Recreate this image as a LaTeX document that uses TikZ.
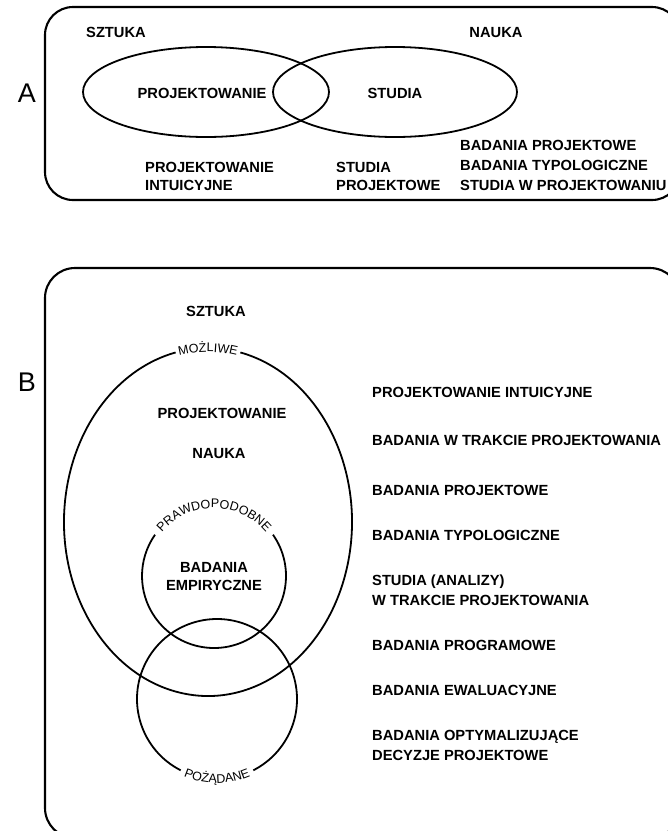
\documentclass[tikz,border=0pt]{standalone}
\usepackage{fontspec}
\setmainfont{Liberation Sans}
\usetikzlibrary{shapes.geometric,decorations.text,calc}
\begin{document}
\begin{tikzpicture}[x=1pt,y=-1pt,
  frame/.style={draw,line width=2.1pt,rounded corners=#1},
  ring/.style={draw,line width=1.8pt},
  lbl/.style={font=\fontsize{14.7}{17}\selectfont\bfseries,inner sep=0pt,anchor=base west},
  lblc/.style={font=\fontsize{14.7}{17}\selectfont\bfseries,inner sep=0pt,anchor=base},
  panel/.style={font=\fontsize{27}{30}\selectfont,inner sep=0pt},
  arctext/.style={decorate,decoration={text along path,text align=center,
      text={|\fontsize{12.5}{13}\selectfont|#1}}},
]
\useasboundingbox (0,0) rectangle (668,831);

% ---------- panel A ----------
\node[panel] (labA) at (27,93) {A};
\draw[frame=28] (45,7) rectangle (680,200);
\node[lblc] (artA) at (116,37) {SZTUKA};
\node[lblc] (sciA) at (496,37) {NAUKA};
\node[ellipse,draw,line width=1.8pt,minimum width=246pt,minimum height=90pt,inner sep=0pt] (ellArt) at (206,92) {};
\node[ellipse,draw,line width=1.8pt,minimum width=244pt,minimum height=90pt,inner sep=0pt] (ellSci) at (395,92) {};
\node[lblc] (projA) at (202,98) {PROJEKTOWANIE};
\node[lblc] (studA) at (395,98) {STUDIA};
\node[lbl] (intA1) at (145,172) {PROJEKTOWANIE};
\node[lbl] (intA2) at (145,190) {INTUICYJNE};
\node[lbl] (spA1) at (336,172) {STUDIA};
\node[lbl] (spA2) at (336,190) {PROJEKTOWE};
\node[lbl] (bpA) at (460,150) {BADANIA PROJEKTOWE};
\node[lbl] (btA) at (460,170) {BADANIA TYPOLOGICZNE};
\node[lbl] (swA) at (460,190) {STUDIA W PROJEKTOWANIU};

% ---------- panel B ----------
\node[panel] (labB) at (27,382) {B};
\draw[frame=30] (45,268) rectangle (680,838);
\node[lblc] (artB) at (216,316) {SZTUKA};

% possible: large ellipse with its label on top
\coordinate (cPos) at (208,522);
\draw[ring] ($(cPos)+(283:144 and 174)$) arc[start angle=283,end angle=617,x radius=144,y radius=174];
\path[arctext={MOŻLIWE}] ($(cPos)+(240:140 and 170)$) arc[start angle=240,end angle=300,x radius=140,y radius=170];
\node[lblc] (projB) at (222,418) {PROJEKTOWANIE};
\node[lblc] (sciB) at (219,458) {NAUKA};

% probable: small circle
\coordinate (cProb) at (214,576);
\draw[ring] ($(cProb)+(325:72)$) arc[start angle=325,end angle=575,radius=72];
\path[arctext={PRAWDOPODOBNE}] ($(cProb)+(200:68)$) arc[start angle=200,end angle=340,radius=68];
\node[lblc] (empB1) at (214,572) {BADANIA};
\node[lblc] (empB2) at (214,590) {EMPIRYCZNE};

% desirable: lower circle
\coordinate (cDes) at (217,699);
\draw[ring] ($(cDes)+(117:80)$) arc[start angle=117,end angle=423,radius=80];
\path[arctext={POŻĄDANE}] ($(cDes)+(140:84)$) arc[start angle=140,end angle=40,radius=84];

% list of research kinds
\node[lbl] (r1) at (372,397) {PROJEKTOWANIE INTUICYJNE};
\node[lbl] (r2) at (372,445) {BADANIA W TRAKCIE PROJEKTOWANIA};
\node[lbl] (r3) at (372,495) {BADANIA PROJEKTOWE};
\node[lbl] (r4) at (372,540) {BADANIA TYPOLOGICZNE};
\node[lbl] (r5a) at (372,585) {STUDIA (ANALIZY)};
\node[lbl] (r5b) at (372,605) {W TRAKCIE PROJEKTOWANIA};
\node[lbl] (r6) at (372,650) {BADANIA PROGRAMOWE};
\node[lbl] (r7) at (372,695) {BADANIA EWALUACYJNE};
\node[lbl] (r8a) at (372,740) {BADANIA OPTYMALIZUJĄCE};
\node[lbl] (r8b) at (372,760) {DECYZJE PROJEKTOWE};
\end{tikzpicture}
\end{document}
